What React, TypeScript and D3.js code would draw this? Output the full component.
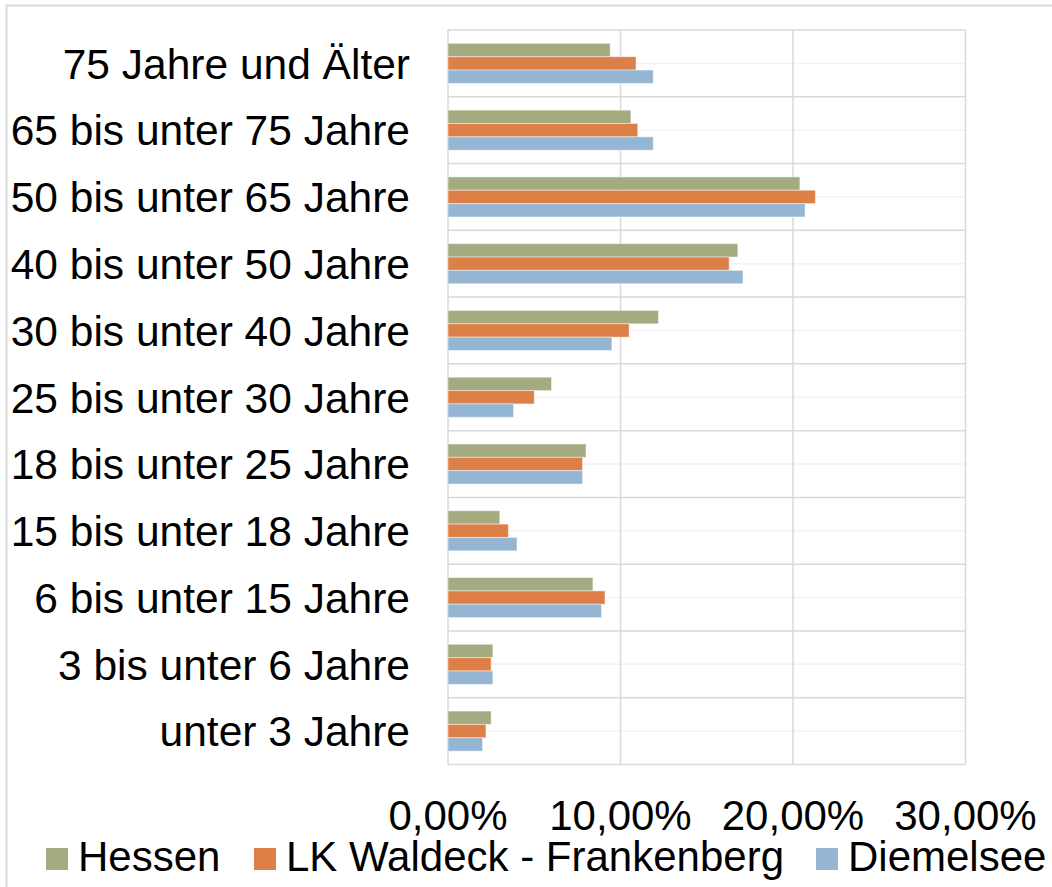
import React from 'react'
import * as d3 from 'd3'

const categories = [
  '75 Jahre und Älter',
  '65 bis unter 75 Jahre',
  '50 bis unter 65 Jahre',
  '40 bis unter 50 Jahre',
  '30 bis unter 40 Jahre',
  '25 bis unter 30 Jahre',
  '18 bis unter 25 Jahre',
  '15 bis unter 18 Jahre',
  '6 bis unter 15 Jahre',
  '3 bis unter 6 Jahre',
  'unter 3 Jahre',
]

const seriesNames = ['Hessen', 'LK Waldeck - Frankenberg', 'Diemelsee']
const seriesColors = ['#a5ab80', '#dd8047', '#94b6d2']

// shares in percent, same order as categories
const hessen = [9.4, 10.6, 20.4, 16.8, 12.2, 6.0, 8.0, 3.0, 8.4, 2.6, 2.5]
const waldeck = [10.9, 11.0, 21.3, 16.3, 10.5, 5.0, 7.8, 3.5, 9.1, 2.5, 2.2]
const diemelsee = [11.9, 11.9, 20.7, 17.1, 9.5, 3.8, 7.8, 4.0, 8.9, 2.6, 2.0]

const tickValues = [0, 10, 20, 30]
const tickLabels = ['0,00%', '10,00%', '20,00%', '30,00%']

const W = 1052
const H = 887
const FONT = 'Liberation Sans, Arial, sans-serif'

const App: React.FC = () => {
  const values = [hessen, waldeck, diemelsee]
  const x = d3.scaleLinear().domain([0, 30]).range([448, 965.5])
  const y = d3.scaleBand().domain(categories).range([30, 764.5])
  const inner = d3
    .scaleBand()
    .domain(seriesNames)
    .range([0, y.bandwidth()])
    .paddingOuter(1)

  const legendX = [46, 254, 816]

  return (
    <svg
      width={W}
      height={H}
      style={{ position: 'absolute', left: 0, top: 0, background: '#fff' }}
      fontFamily={FONT}
    >
      {/* chart frame */}
      <line x1={6} x2={W} y1={5.5} y2={5.5} stroke="#d9d9d9" strokeWidth={2} />
      <line x1={6.5} x2={6.5} y1={5} y2={H} stroke="#d9d9d9" strokeWidth={2} />

      {/* minor horizontal grid at band centres */}
      {categories.map((c) => (
        <line
          key={'m' + c}
          x1={x(0)}
          x2={x(30)}
          y1={y(c)! + y.bandwidth() / 2}
          y2={y(c)! + y.bandwidth() / 2}
          stroke="#f2f2f2"
          strokeWidth={1.5}
        />
      ))}
      {/* major horizontal grid at band edges */}
      {categories.map((c) => (
        <line
          key={'g' + c}
          x1={x(0)}
          x2={x(30)}
          y1={y(c)!}
          y2={y(c)!}
          stroke="#d9d9d9"
          strokeWidth={1.5}
        />
      ))}
      {tickValues.map((t) => (
        <line
          key={'v' + t}
          x1={x(t)}
          x2={x(t)}
          y1={y.range()[0]}
          y2={y.range()[1]}
          stroke="#d9d9d9"
          strokeWidth={1.5}
        />
      ))}
      <line
        x1={x(0)}
        x2={x(30)}
        y1={y.range()[1]}
        y2={y.range()[1]}
        stroke="#d9d9d9"
        strokeWidth={1.5}
      />

      {/* bars */}
      {categories.map((c, i) => (
        <g key={'b' + c} transform={`translate(0,${y(c)})`}>
          {seriesNames.map((s, k) => (
            <rect
              key={s}
              x={x(0)}
              y={inner(s)}
              width={x(values[k][i]) - x(0)}
              height={inner.bandwidth()}
              fill={seriesColors[k]}
              stroke="#ffffff"
              strokeOpacity={0.45}
              strokeWidth={1}
            />
          ))}
        </g>
      ))}

      {/* category labels */}
      {categories.map((c) => (
        <text
          key={'l' + c}
          x={410}
          y={y(c)! + y.bandwidth() / 2}
          dy="0.36em"
          textAnchor="end"
          fontSize={42.5}
          fill="#000"
        >
          {c}
        </text>
      ))}

      {/* value axis labels */}
      {tickValues.map((t, i) => (
        <text
          key={'t' + t}
          x={x(t)}
          y={830}
          textAnchor="middle"
          fontSize={42}
          fill="#000"
        >
          {tickLabels[i]}
        </text>
      ))}

      {/* legend */}
      {seriesNames.map((s, k) => (
        <g key={'lg' + s} transform={`translate(${legendX[k]},0)`}>
          <rect x={0} y={848} width={22} height={22} fill={seriesColors[k]} />
          <text x={32} y={871} fontSize={42} fill="#000">
            {s}
          </text>
        </g>
      ))}
    </svg>
  )
}

export default App
